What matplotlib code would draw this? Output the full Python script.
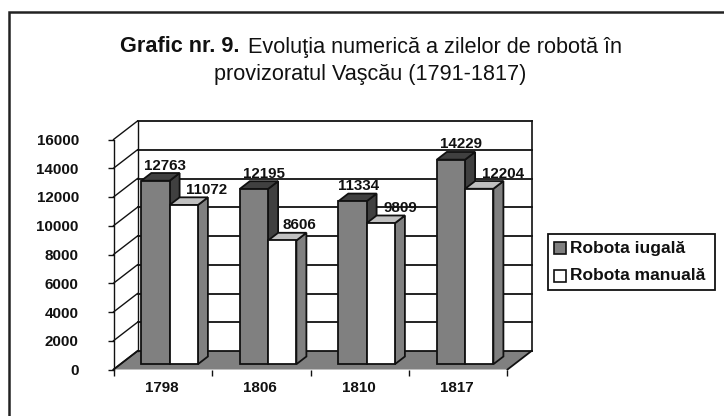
import matplotlib
matplotlib.use("Agg")
import matplotlib.pyplot as plt
from matplotlib.lines import Line2D
from matplotlib.patches import Rectangle

plt.rcParams['font.family'] = ['Liberation Sans', 'DejaVu Sans']

categories = ['1798', '1806', '1810', '1817']
robota_iugala = [12763, 12195, 11334, 14229]
robota_manuala = [11072, 8606, 9809, 12204]
series_names = ['Robota iugală', 'Robota manuală']
y_ticks = [0, 2000, 4000, 6000, 8000, 10000, 12000, 14000, 16000]
# horizontal nudges of the data labels, in pixels
label_nudge_iugala = [4, 5, 1.5, 5]
label_nudge_manuala = [17.5, 12, 15, 19]

W, H = 724, 416
fig = plt.figure(figsize=(W / 100, H / 100), dpi=100, facecolor='white')

L, R, B, T = 113.5, 507.5, 369.5, 139.5
ax = fig.add_axes([L / W, 1 - B / H, (R - L) / W, (B - T) / H])
ax.set_xlim(0, 4)
ax.set_ylim(0, 16000)
ax.patch.set_alpha(0)
PX = 4 / (R - L)
PY = 16000 / (B - T)
DX, DY = 24 * PX, 18.5 * PY       # wall depth
BX, BY = 10 * PX, 7.7 * PY        # bar depth
OY = 5.3 * PY                     # bar offset into the floor
LW = 1.3
DARK = '#111111'
GREY = '#808080'

for s in ['top', 'right', 'bottom']:
    ax.spines[s].set_visible(False)
ax.spines['left'].set_linewidth(1.0)
ax.spines['left'].set_color(DARK)
ax.spines['left'].set_zorder(2)

# floor
ax.fill([0, 4, 4 + DX, DX], [0, 0, DY, DY], facecolor=GREY, edgecolor='none', zorder=1, clip_on=False)
ax.plot([4, 4 + DX], [0, DY], color=DARK, lw=LW, zorder=1.5, clip_on=False)
ax.plot([0, DX], [0, DY], color=DARK, lw=LW, zorder=1.5, clip_on=False)
# walls and gridlines
ax.plot([DX, DX], [DY, 16000 + DY], color=DARK, lw=1.0, zorder=1, clip_on=False)
ax.plot([4 + DX, 4 + DX], [DY, 16000 + DY], color=DARK, lw=1.2, zorder=1, clip_on=False)
for v in y_ticks:
    ax.plot([DX, 4 + DX], [v + DY, v + DY], color=DARK, lw=1.3, zorder=1, clip_on=False)
    ax.plot([0, DX], [v, v + DY], color=DARK, lw=1.0, zorder=1, clip_on=False)

# bars
bar_w = 28.3 * PX
start = 27.8 * PX


def draw_bar(x, v, face, top, side, z):
    ax.fill([x + bar_w, x + bar_w + BX, x + bar_w + BX, x + bar_w],
            [OY, OY + BY, OY + BY + v, OY + v], facecolor=side, edgecolor=DARK, lw=LW,
            zorder=z, clip_on=False, joinstyle='miter')
    ax.fill([x, x + BX, x + bar_w + BX, x + bar_w],
            [OY + v, OY + v + BY, OY + v + BY, OY + v], facecolor=top, edgecolor=DARK, lw=LW,
            zorder=z, clip_on=False, joinstyle='miter')
    ax.bar(x, v, width=bar_w, bottom=OY, align='edge', facecolor=face, edgecolor=DARK,
           lw=LW, zorder=z, clip_on=False)


for i, (a, b) in enumerate(zip(robota_iugala, robota_manuala)):
    x0 = i + start
    draw_bar(x0, a, GREY, '#404040', '#404040', 3 + 2 * i)
    draw_bar(x0 + bar_w, b, 'white', '#c0c0c0', GREY, 4 + 2 * i)
    ax.text(x0 + 0.5 * bar_w + label_nudge_iugala[i] * PX + 0.5 * BX, OY + a + BY + 7.5 * PY, str(a),
            ha='center', va='center', fontsize=10.9, fontweight='bold', color=DARK, zorder=20, clip_on=False)
    ax.text(x0 + 1.5 * bar_w + label_nudge_manuala[i] * PX + 0.5 * BX, OY + b + BY + 7.5 * PY, str(b),
            ha='center', va='center', fontsize=10.9, fontweight='bold', color=DARK, zorder=20, clip_on=False)

# axes ticks
ax.set_yticks(y_ticks)
ax.set_yticklabels([str(v) for v in y_ticks], fontsize=10.9, fontweight='bold', color=DARK)
ax.tick_params(axis='y', length=4, width=1.0, color=DARK, pad=21)
ax.set_xticks(range(5))
ax.set_xticklabels([''] * 5)
ax.tick_params(axis='x', length=4, width=1.0, color=DARK)
for i, c in enumerate(categories):
    ax.text(i + 0.49, -1270, c, ha='center', va='center', fontsize=10.9, fontweight='bold', color=DARK)

# title
fig.text(120.5 / W, 1 - 52.5 / H, 'Grafic nr. 9.', fontsize=15.6, fontweight='bold', va='baseline', ha='left',
         color=DARK)
fig.text(248 / W, 1 - 52.5 / H, 'Evoluţia numerică a zilelor de robotă în', fontsize=15.6,
         va='baseline', ha='left', color=DARK)
fig.text(370.5 / W, 1 - 80 / H, 'provizoratul Vaşcău (1791-1817)', fontsize=15.6, va='baseline', ha='center',
         color=DARK)

# legend
fig.add_artist(Rectangle((547.5 / W, 1 - 289.5 / H), 167.5 / W, 56 / H, transform=fig.transFigure,
                         facecolor='white', edgecolor=DARK, lw=1.3))
for name, col, y in zip(series_names, [GREY, 'white'], [248, 276]):
    fig.add_artist(Rectangle((553.5 / W, 1 - (y + 6) / H), 12.5 / W, 12 / H, transform=fig.transFigure,
                             facecolor=col, edgecolor=DARK, lw=1.2))
    fig.text(570.5 / W, 1 - y / H, name, fontsize=12.5, fontweight='bold', va='center', ha='left', color=DARK)

# outer frame
fig.add_artist(Line2D([9 / W, 9 / W, 1], [0, 1 - 11.5 / H, 1 - 11.5 / H], transform=fig.transFigure,
                      color='#222222', lw=1.8, solid_joinstyle='miter'))

fig.savefig('out.png', dpi=100, facecolor='white')
